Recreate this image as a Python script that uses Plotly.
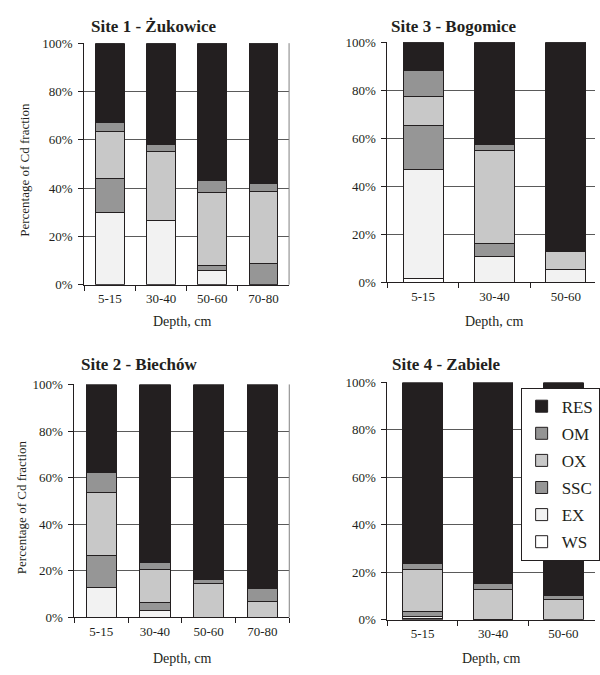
import plotly.graph_objects as go

W, H = 600, 675

# ---------------- data ----------------
fractions = ["WS", "EX", "SSC", "OX", "OM", "RES"]
legend_order = ["RES", "OM", "OX", "SSC", "EX", "WS"]
colors = {"WS": "#ffffff", "EX": "#f2f2f2", "SSC": "#969696",
          "OX": "#c8c8c8", "OM": "#949494", "RES": "#231f20"}

depth_site1 = ["5-15", "30-40", "50-60", "70-80"]
site1_WS = [0.0, 0.0, 0.0, 0.0]
site1_EX = [30.0, 26.4, 5.9, 0.0]
site1_SSC = [14.0, 0.0, 2.1, 8.8]
site1_OX = [19.3, 28.8, 30.3, 29.7]
site1_OM = [3.8, 2.7, 4.7, 3.6]
site1_RES = [32.9, 42.1, 57.0, 57.9]

depth_site3 = ["5-15", "30-40", "50-60"]
site3_WS = [1.8, 0.0, 0.0]
site3_EX = [45.3, 10.6, 5.2]
site3_SSC = [18.3, 5.8, 0.0]
site3_OX = [12.2, 38.4, 7.8]
site3_OM = [10.5, 2.7, 0.0]
site3_RES = [11.9, 42.5, 87.0]

depth_site2 = ["5-15", "30-40", "50-60", "70-80"]
site2_WS = [0.0, 0.0, 0.0, 0.0]
site2_EX = [13.0, 2.9, 0.0, 0.0]
site2_SSC = [13.7, 3.7, 0.0, 0.0]
site2_OX = [27.1, 14.1, 14.7, 7.0]
site2_OM = [8.4, 2.8, 1.7, 5.3]
site2_RES = [37.8, 76.5, 83.6, 87.7]

depth_site4 = ["5-15", "30-40", "50-60"]
site4_WS = [0.5, 0.0, 0.0]
site4_EX = [0.9, 0.3, 0.0]
site4_SSC = [2.0, 0.0, 0.0]
site4_OX = [17.8, 12.6, 8.7]
site4_OM = [2.6, 2.5, 1.6]
site4_RES = [76.2, 84.6, 89.7]

y_ticks = [0, 20, 40, 60, 80, 100]
y_tick_labels = ["0%", "20%", "40%", "60%", "80%", "100%"]

panels = [
    ("Site 1 - Żukowice", depth_site1,
     dict(WS=site1_WS, EX=site1_EX, SSC=site1_SSC, OX=site1_OX, OM=site1_OM, RES=site1_RES),
     "", (85, 291.5, 37, 284), None, False),
    ("Site 3 - Bogomice", depth_site3,
     dict(WS=site3_WS, EX=site3_EX, SSC=site3_SSC, OX=site3_OX, OM=site3_OM, RES=site3_RES),
     "2", (390.7, 600, 36, 281.7), 72.0, False),
    ("Site 2 - Biechów", depth_site2,
     dict(WS=site2_WS, EX=site2_EX, SSC=site2_SSC, OX=site2_OX, OM=site2_OM, RES=site2_RES),
     "3", (75, 291.7, 386, 624.3), None, False),
    ("Site 4 - Zabiele", depth_site4,
     dict(WS=site4_WS, EX=site4_EX, SSC=site4_SSC, OX=site4_OX, OM=site4_OM, RES=site4_RES),
     "4", (390.7, 600, 384, 626.7), 71.0, True),
]

FONT = "Liberation Serif, Times New Roman, serif"

fig = go.Figure()
layout = dict(
    width=W, height=H, margin=dict(l=0, r=0, t=0, b=0),
    paper_bgcolor="white", plot_bgcolor="white",
    barmode="stack", bargap=0.44,
    font=dict(family=FONT, color="#231f20", size=11),
    showlegend=True,
    legend=dict(x=525 / W, y=1 - 389.3 / H, xanchor="left", yanchor="top",
                bgcolor="white", bordercolor="#231f20", borderwidth=1,
                font=dict(family=FONT, size=17, color="#231f20"),
                itemwidth=30,
                traceorder="grouped", tracegroupgap=2),
)
shapes = []
for title, cats, series, sfx, (x0, x1, yt, yb), catw, leg in panels:
    xa = "x" + sfx
    ya = "y" + sfx
    for fr in fractions:
        fig.add_trace(go.Bar(
            x=cats, y=series[fr], name=fr, xaxis=xa, yaxis=ya,
            marker=dict(color=colors[fr], line=dict(color="#231f20", width=1)),
            showlegend=leg, legendgroup=fr,
            legendrank=legend_order.index(fr) + 1,
        ))
    n = len(cats)
    if catw is None:
        xr = [-0.5, n - 0.5]
    else:
        xr = [-0.5, -0.5 + (x1 - x0) / catw]
    layout["xaxis" + sfx] = dict(
        domain=[x0 / W, x1 / W], anchor=ya, range=xr, type="category",
        showgrid=False, showline=True, linecolor="#231f20", linewidth=1,
        ticks="outside", ticklen=5, tickcolor="#231f20", tickson="boundaries",
        tickfont=dict(family=FONT, size=13, color="#231f20"),
        ticklabelstandoff=2, fixedrange=True,
    )
    layout["yaxis" + sfx] = dict(
        domain=[1 - yb / H, 1 - yt / H], anchor=xa, range=[0, 100],
        tickvals=y_ticks, ticktext=y_tick_labels,
        showgrid=True, gridcolor="#5a5a5a", gridwidth=1, zeroline=False,
        showline=True, linecolor="#231f20", linewidth=1,
        ticks="outside", ticklen=5, tickcolor="#231f20",
        tickfont=dict(family=FONT, size=13, color="#231f20"),
        ticklabelstandoff=3, fixedrange=True,
    )
    if catw is None:
        shapes.append(dict(type="line", xref=xa + " domain", yref=ya + " domain",
                           x0=1, x1=1, y0=0, y1=1,
                           line=dict(color="#808080", width=1)))

ann = []
def add_text(text, px, py, size, bold=False, angle=0):
    ann.append(dict(text=("<b>%s</b>" % text) if bold else text,
                    x=px / W, y=1 - py / H, xref="paper", yref="paper",
                    xanchor="center", yanchor="middle", showarrow=False,
                    textangle=angle,
                    font=dict(family=FONT, size=size, color="#231f20")))

add_text("Site 1 - Żukowice", 155, 20, 17, bold=True)
add_text("Site 3 - Bogomice", 458, 20, 17, bold=True)
add_text("Site 2 - Biechów", 140, 366, 17, bold=True)
add_text("Site 4 - Zabiele", 450, 366, 17, bold=True)
add_text("Percentage of Cd fraction", 25, 166.7, 13, angle=-90)
add_text("Percentage of Cd fraction", 22, 511.7, 13, angle=-90)
add_text("Depth, cm", 183.3, 321.7, 14)
add_text("Depth, cm", 498, 321.7, 14)
add_text("Depth, cm", 183.3, 666, 14)
add_text("Depth, cm", 495, 666, 14)

layout["annotations"] = ann
layout["shapes"] = shapes
fig.update_layout(**layout)
fig.write_html("out.html", config={"displayModeBar": False},
               post_script="document.body.style.margin='0';"
                           "document.body.style.overflow='hidden';")
